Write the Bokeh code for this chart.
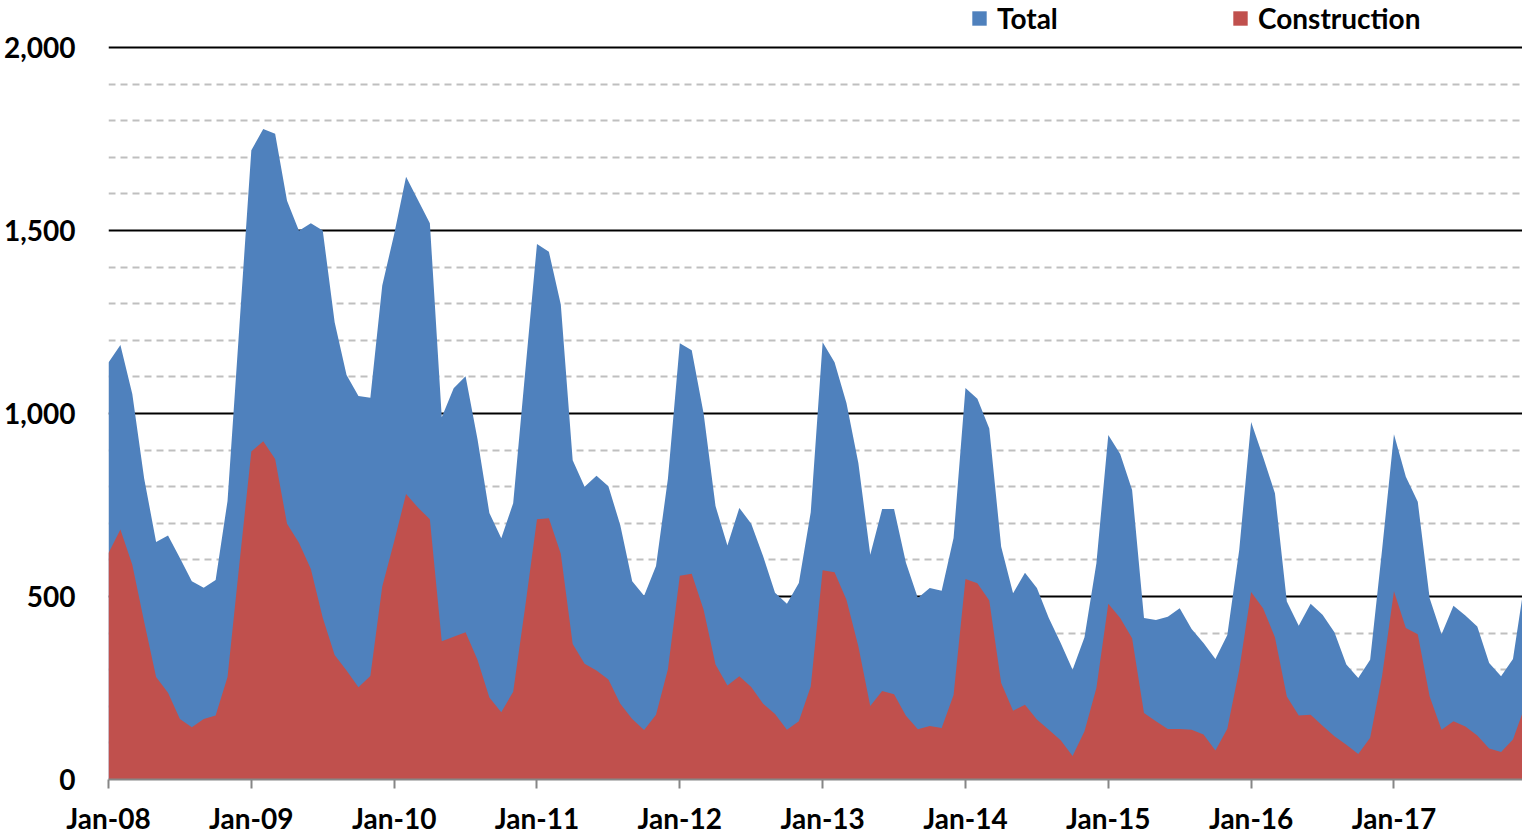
from bokeh.plotting import figure
from bokeh.models import (Range1d, FixedTicker, NumeralTickFormatter, Legend, LegendItem)
from bokeh.embed import file_html
from bokeh.resources import INLINE

months = list(range(120))
tick_labels = ["Jan-08", "Jan-09", "Jan-10", "Jan-11", "Jan-12",
               "Jan-13", "Jan-14", "Jan-15", "Jan-16", "Jan-17"]

total = [1139, 1187, 1053, 822, 649, 667, 605, 542, 524, 545, 761, 1240,
         1719, 1777, 1764, 1581, 1499, 1520, 1500, 1249, 1105, 1048, 1043, 1350,
         1490, 1647, 1583, 1520, 990, 1069, 1102, 930, 728, 659, 755, 1110,
         1463, 1442, 1298, 872, 800, 830, 801, 695, 542, 502, 583, 822,
         1192, 1173, 1000, 747, 639, 742, 699, 610, 510, 480, 537, 730,
         1195, 1140, 1029, 865, 614, 739, 739, 592, 496, 523, 516, 660,
         1070, 1040, 959, 636, 509, 565, 523, 441, 373, 300, 389, 591,
         941, 889, 791, 441, 436, 445, 468, 411, 373, 329, 395, 627,
         977, 882, 782, 486, 420, 480, 450, 402, 314, 277, 327, 627,
         943, 827, 759, 495, 397, 475, 448, 418, 318, 282, 329, 545]

construction = [619, 683, 587, 430, 280, 237, 165, 143, 165, 175, 280, 590,
                896, 924, 876, 699, 647, 575, 442, 340, 298, 252, 283, 527,
                650, 780, 743, 711, 378, 390, 402, 327, 224, 184, 240, 470,
                711, 714, 617, 370, 316, 298, 273, 207, 165, 135, 177, 301,
                557, 562, 464, 314, 257, 282, 253, 207, 179, 136, 159, 254,
                572, 566, 491, 364, 201, 242, 233, 174, 137, 146, 141, 231,
                548, 536, 489, 264, 188, 204, 164, 136, 107, 64, 132, 250,
                480, 441, 386, 182, 159, 138, 138, 136, 123, 79, 139, 300,
                512, 468, 389, 227, 175, 177, 147, 118, 95, 70, 114, 282,
                514, 414, 397, 227, 136, 159, 145, 120, 85, 75, 109, 200]

BLUE = "#4F81BD"
RED = "#C0504D"
FONT = "Lato"
FS = "28px"

# frame extends to the top of the canvas so the legend can sit above the 2,000 line
p = figure(frame_width=1414, frame_height=779, output_backend="svg",
           toolbar_location=None,
           x_range=Range1d(0, 118.8), y_range=Range1d(0, 2128.4),
           min_border_left=108, min_border_right=0, min_border_top=0,
           min_border_bottom=56)
p.outline_line_color = None
p.background_fill_color = "white"
p.border_fill_color = "white"

r_total = p.varea(x=months, y1=[0] * len(months), y2=total, fill_color=BLUE)
r_cons = p.varea(x=months, y1=[0] * len(months), y2=construction, fill_color=RED)

# x axis
p.xaxis.ticker = FixedTicker(ticks=[12 * i for i in range(len(tick_labels))])
p.xaxis.major_label_overrides = {12 * i: lab for i, lab in enumerate(tick_labels)}
p.xaxis.axis_line_color = "#868686"
p.xaxis.axis_line_width = 2
p.xaxis.major_tick_line_color = "#868686"
p.xaxis.major_tick_line_width = 2
p.xaxis.major_tick_in = 0
p.xaxis.major_tick_out = 9
p.xaxis.minor_tick_line_color = None
p.xaxis.major_label_standoff = 12
p.xaxis.major_label_text_font = FONT
p.xaxis.major_label_text_font_style = "bold"
p.xaxis.major_label_text_font_size = FS
p.xaxis.major_label_text_color = "black"

# y axis
p.yaxis.ticker = FixedTicker(ticks=[0, 500, 1000, 1500, 2000])
p.yaxis.formatter = NumeralTickFormatter(format="0,0")
p.yaxis.axis_line_color = None
p.yaxis.major_tick_line_color = None
p.yaxis.minor_tick_line_color = None
p.yaxis.major_label_standoff = 27
p.yaxis.major_label_text_font = FONT
p.yaxis.major_label_text_font_style = "bold"
p.yaxis.major_label_text_font_size = FS
p.yaxis.major_label_text_color = "black"

# grids
p.xgrid.grid_line_color = None
p.ygrid.ticker = FixedTicker(ticks=[500, 1000, 1500, 2000],
                             minor_ticks=[v for v in range(100, 2000, 100) if v % 500])
p.ygrid.grid_line_color = "black"
p.ygrid.grid_line_width = 2
p.ygrid.minor_grid_line_color = "#BFBFBF"
p.ygrid.minor_grid_line_width = 2
p.ygrid.minor_grid_line_dash = "7 5"

legend = Legend(items=[LegendItem(label="Total", renderers=[r_total]),
                       LegendItem(label="Construction", renderers=[r_cons])],
                orientation="horizontal", location=(862, 744),
                padding=0, margin=0, spacing=14, label_width=220,
                glyph_width=18, glyph_height=18, label_standoff=9,
                border_line_color=None, background_fill_alpha=0)
legend.label_text_font = FONT
legend.label_text_font_style = "bold"
legend.label_text_font_size = FS
legend.label_text_color = "black"
p.add_layout(legend)

open("out.html", "w").write(file_html(p, INLINE))
